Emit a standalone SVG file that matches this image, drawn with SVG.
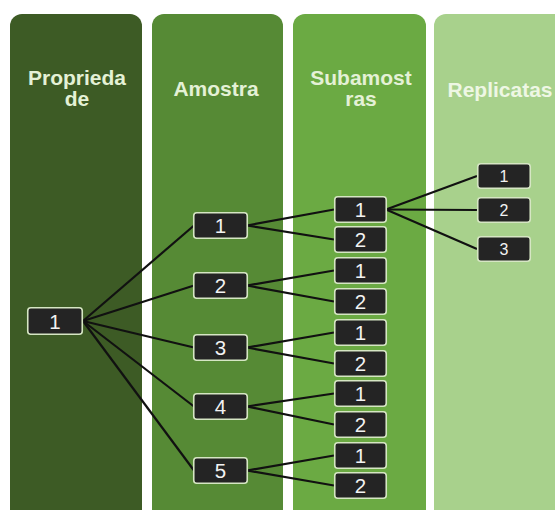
<svg xmlns="http://www.w3.org/2000/svg" width="555" height="510" viewBox="0 0 555 510">
<style>
.hdr{font-family:"Liberation Sans",Arial,sans-serif;font-weight:bold;font-size:21px;fill:#e4f1d6;text-anchor:middle}
.box{fill:#242424;stroke:#d6e6c4;stroke-width:1.6}
.num{font-family:"Liberation Sans",Arial,sans-serif;font-size:20.5px;fill:#f2f2f2;text-anchor:middle}
.rnum{font-family:"Liberation Sans",Arial,sans-serif;font-size:16px;fill:#f2f2f2;text-anchor:middle}
.con{stroke:#111;stroke-width:2.2;fill:none}
</style>
<rect width="555" height="510" fill="#ffffff"/>
<g id="col-propriedade">
<rect x="10" y="14" width="132" height="520" rx="12" fill="#3d5b25"/>
<text class="hdr" x="77" y="85">Proprieda</text>
<text class="hdr" x="77" y="106">de</text>
</g>
<g id="col-amostra">
<rect x="152" y="14" width="131" height="520" rx="12" fill="#568a35"/>
<text class="hdr" x="216" y="96">Amostra</text>
</g>
<g id="col-subamostras">
<rect x="293" y="14" width="133" height="520" rx="12" fill="#6baa43"/>
<text class="hdr" x="361" y="85">Subamost</text>
<text class="hdr" x="361" y="106">ras</text>
</g>
<g id="col-replicatas">
<rect x="434" y="14" width="140" height="520" rx="12" fill="#a8d18c"/>
<text class="hdr" x="500" y="97" style="fill:#eef7e4">Replicatas</text>
</g>
<g id="connectors">
<line class="con" x1="83" y1="321" x2="194" y2="225.5"/>
<line class="con" x1="83" y1="321" x2="194" y2="285.5"/>
<line class="con" x1="83" y1="321" x2="194" y2="347.5"/>
<line class="con" x1="83" y1="321" x2="194" y2="406.5"/>
<line class="con" x1="83" y1="321" x2="194" y2="470.5"/>
<line class="con" x1="247" y1="225.5" x2="334" y2="209.5"/>
<line class="con" x1="247" y1="225.5" x2="334" y2="239.5"/>
<line class="con" x1="247" y1="285.5" x2="334" y2="270.5"/>
<line class="con" x1="247" y1="285.5" x2="334" y2="301.5"/>
<line class="con" x1="247" y1="347.5" x2="334" y2="332.5"/>
<line class="con" x1="247" y1="347.5" x2="334" y2="363.5"/>
<line class="con" x1="247" y1="406.5" x2="334" y2="393.5"/>
<line class="con" x1="247" y1="406.5" x2="334" y2="424.5"/>
<line class="con" x1="247" y1="470.5" x2="334" y2="455.5"/>
<line class="con" x1="247" y1="470.5" x2="334" y2="485.5"/>
<line class="con" x1="386" y1="209.5" x2="477" y2="176"/>
<line class="con" x1="386" y1="209.5" x2="477" y2="210"/>
<line class="con" x1="386" y1="209.5" x2="477" y2="249"/>
</g>
<g id="prop-1"><rect class="box" x="27.75" y="307.75" width="54.5" height="26.5" rx="3"/><text class="num" x="55" y="328.5">1</text></g>
<g id="amostra-1"><rect class="box" x="193.75" y="212.75" width="53.5" height="25.5" rx="3"/><text class="num" x="220.5" y="233">1</text></g>
<g id="amostra-2"><rect class="box" x="193.75" y="272.75" width="53.5" height="25.5" rx="3"/><text class="num" x="220.5" y="293">2</text></g>
<g id="amostra-3"><rect class="box" x="193.75" y="334.75" width="53.5" height="25.5" rx="3"/><text class="num" x="220.5" y="355">3</text></g>
<g id="amostra-4"><rect class="box" x="193.75" y="393.75" width="53.5" height="25.5" rx="3"/><text class="num" x="220.5" y="414">4</text></g>
<g id="amostra-5"><rect class="box" x="193.75" y="457.75" width="53.5" height="25.5" rx="3"/><text class="num" x="220.5" y="478">5</text></g>
<g id="sub-1-1"><rect class="box" x="334.75" y="196.75" width="51.5" height="25.5" rx="3"/><text class="num" x="360.5" y="217">1</text></g>
<g id="sub-1-2"><rect class="box" x="334.75" y="226.75" width="51.5" height="25.5" rx="3"/><text class="num" x="360.5" y="247">2</text></g>
<g id="sub-2-1"><rect class="box" x="334.75" y="257.75" width="51.5" height="25.5" rx="3"/><text class="num" x="360.5" y="278">1</text></g>
<g id="sub-2-2"><rect class="box" x="334.75" y="288.75" width="51.5" height="25.5" rx="3"/><text class="num" x="360.5" y="309">2</text></g>
<g id="sub-3-1"><rect class="box" x="334.75" y="319.75" width="51.5" height="25.5" rx="3"/><text class="num" x="360.5" y="340">1</text></g>
<g id="sub-3-2"><rect class="box" x="334.75" y="350.75" width="51.5" height="25.5" rx="3"/><text class="num" x="360.5" y="371">2</text></g>
<g id="sub-4-1"><rect class="box" x="334.75" y="380.75" width="51.5" height="25.5" rx="3"/><text class="num" x="360.5" y="401">1</text></g>
<g id="sub-4-2"><rect class="box" x="334.75" y="411.75" width="51.5" height="25.5" rx="3"/><text class="num" x="360.5" y="432">2</text></g>
<g id="sub-5-1"><rect class="box" x="334.75" y="442.75" width="51.5" height="25.5" rx="3"/><text class="num" x="360.5" y="463">1</text></g>
<g id="sub-5-2"><rect class="box" x="334.75" y="472.75" width="51.5" height="25.5" rx="3"/><text class="num" x="360.5" y="493">2</text></g>
<g id="rep-1"><rect class="box" x="477.75" y="163.75" width="52.5" height="24.5" rx="3"/><text class="rnum" x="504" y="181.8">1</text></g>
<g id="rep-2"><rect class="box" x="477.75" y="197.75" width="52.5" height="24.5" rx="3"/><text class="rnum" x="504" y="215.8">2</text></g>
<g id="rep-3"><rect class="box" x="477.75" y="236.75" width="52.5" height="24.5" rx="3"/><text class="rnum" x="504" y="254.8">3</text></g>
</svg>
